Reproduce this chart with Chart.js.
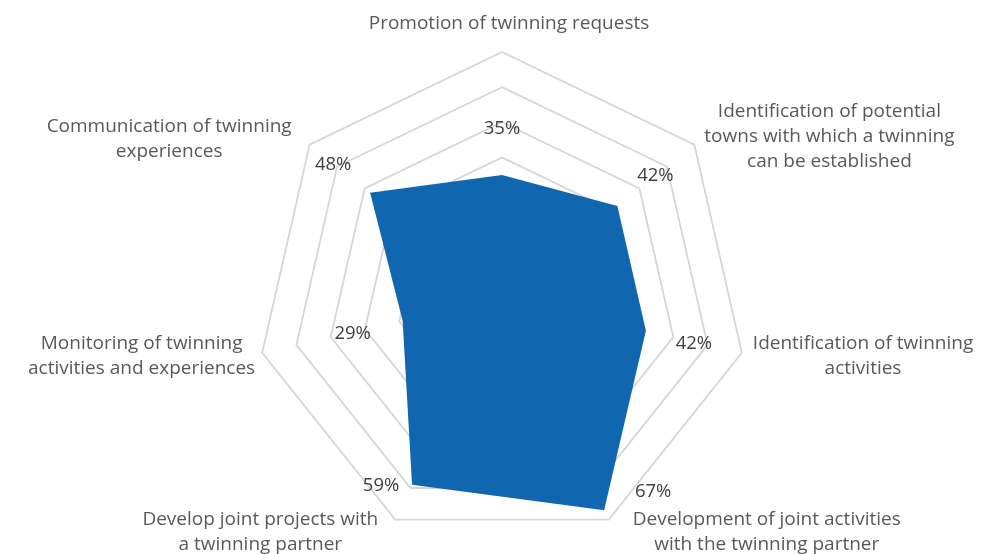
<!DOCTYPE html>
<html><head><meta charset="utf-8">
<script src="https://cdn.jsdelivr.net/npm/chart.js@4"></script>
<style>html,body{margin:0;padding:0;background:#fff;}</style>
</head><body>
<canvas id="c" width="1000" height="554"></canvas>
<script>
// ---- data ----
const categories = [
  ["Promotion of twinning requests"],
  ["Identification of potential", "towns with which a twinning", "can be established"],
  ["Identification of twinning", "activities"],
  ["Development of joint activities", "with the twinning partner"],
  ["Develop joint projects with", "a twinning partner"],
  ["Monitoring of twinning", "activities and experiences"],
  ["Communication of twinning", "experiences"]
];
const shares = [0.35, 0.42, 0.42, 0.67, 0.59, 0.29, 0.48];
const scaleMin = 0;
const scaleMax = 0.7;
const scaleStep = 0.1;

// ---- layout / style (not data) ----
const catLayout = [
  {align: 'center', dx: 7,   dy: -28},
  {align: 'left',   dx: 10,  dy: -8},
  {align: 'left',   dx: 11,  dy: 3},
  {align: 'left',   dx: 24,  dy: 12},
  {align: 'right',  dx: -17, dy: 12},
  {align: 'right',  dx: -7,  dy: 3},
  {align: 'right',  dx: -18, dy: -6}
];
const valueOffsets = [[0,-46],[38,-30],[48,13],[49,-18],[-31,1],[-50,13],[-37,-28]];
const FONT = '"Open Sans", "Noto Sans", sans-serif';

const labelPlugin = {
  id: 'labels',
  afterDatasetsDraw(chart) {
    const ctx = chart.ctx;
    const scale = chart.scales.r;
    ctx.save();
    // category labels
    ctx.font = '19px ' + FONT;
    ctx.fillStyle = '#595959';
    ctx.textBaseline = 'middle';
    ctx.textAlign = 'center';
    const lineH = 25;
    chart.data.labels.forEach((lines, i) => {
      const v = scale.getPointPosition(i, scale.drawingArea);
      const L = catLayout[i];
      const W = Math.max(...lines.map(t => ctx.measureText(t).width));
      const ax = v.x + L.dx;
      const cx = L.align === 'left' ? ax + W / 2 : (L.align === 'right' ? ax - W / 2 : ax);
      const cy = v.y + L.dy;
      lines.forEach((t, j) => {
        ctx.fillText(t, cx, cy + (j - (lines.length - 1) / 2) * lineH);
      });
    });
    // value labels
    ctx.font = '18.5px ' + FONT;
    ctx.fillStyle = '#404040';
    const meta = chart.getDatasetMeta(0);
    meta.data.forEach((pt, i) => {
      const val = chart.data.datasets[0].data[i];
      const o = valueOffsets[i];
      ctx.fillText(Math.round(val * 100) + '%', pt.x + o[0], pt.y + o[1]);
    });
    ctx.restore();
  }
};

new Chart(document.getElementById('c'), {
  type: 'radar',
  data: {
    labels: categories,
    datasets: [{
      data: shares,
      fill: true,
      backgroundColor: '#1067b0',
      borderColor: '#1067b0',
      borderWidth: 0,
      pointRadius: 0,
      pointHoverRadius: 0,
      tension: 0
    }]
  },
  options: {
    responsive: false,
    animation: false,
    devicePixelRatio: 1,
    layout: {padding: {top: 52, bottom: 10, left: 4, right: 0}},
    plugins: {legend: {display: false}, tooltip: {enabled: false}},
    scales: {
      r: {
        min: scaleMin,
        max: scaleMax,
        ticks: {stepSize: scaleStep, display: false},
        grid: {color: '#d6d6d6', lineWidth: 1.8},
        angleLines: {display: false},
        pointLabels: {display: false}
      }
    }
  },
  plugins: [labelPlugin]
});
</script>
</body></html>
